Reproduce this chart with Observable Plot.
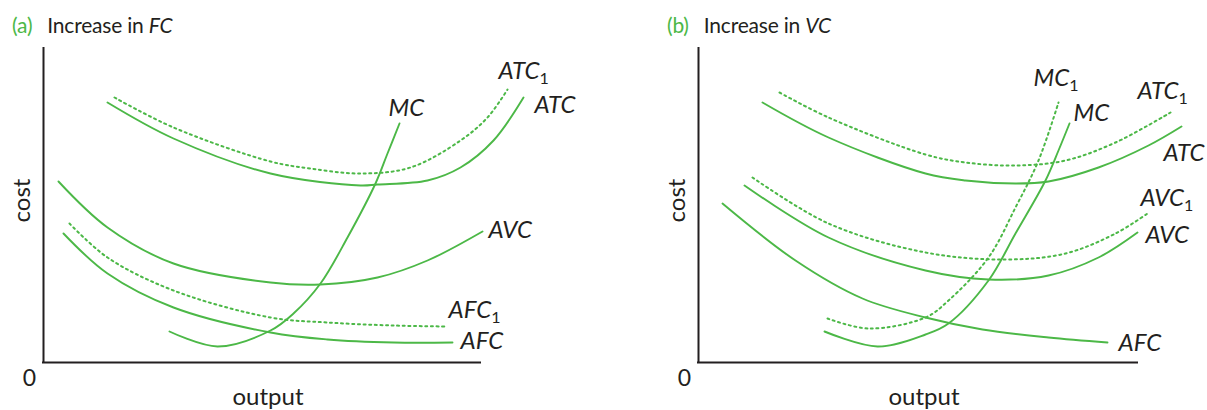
<!DOCTYPE html>
<html><head><meta charset="utf-8">
<script src="https://cdn.jsdelivr.net/npm/d3@7"></script>
<script src="https://cdn.jsdelivr.net/npm/@observablehq/plot@0.6"></script>
<style>
body{margin:0;background:#fff;}
#wrap{position:relative;width:1207px;height:410px;overflow:hidden;font-family:Lato,"Open Sans",sans-serif;color:#231f20;}
.panel{position:absolute;top:0;}
.title{position:absolute;top:14px;font-size:21px;line-height:21px;white-space:nowrap;color:#231f20;letter-spacing:-0.2px;}
.title .tag{color:#4cb847;margin-right:15px}
.title i{font-style:italic}
</style></head><body><div id="wrap"></div>
<script>
const GREEN = "#4cb847", INK = "#231f20";

// ---------- Panel (a): increase in fixed cost (output, cost) ----------
const aATC  = [[64,260],[130,224],[227,189],[317,177],[334,178],[384,182],[417,195],[450,222],[480,265]];
const aATC1 = [[71,265],[130,235],[227,201],[267,194],[317,189],[367,195],[417,222],[444,245],[464,273]];
const aMC   = [[126,31],[174,16],[227,32],[250,49],[277,79],[304,125],[332,179],[344,209],[356,239]];
const aAVC  = [[15,181],[64,135],[130,99],[227,80],[277,78],[334,85],[384,102],[439,131]];
const aAFC1 = [[26,139],[64,105],[130,72],[227,45],[284,40],[350,37],[404,36]];
const aAFC  = [[20,129],[64,89],[130,55],[227,30],[284,23],[350,20],[409,20]];
const aLabels = [
  {text:"ATC_1", x:455, y:291}, {text:"ATC", x:491, y:257}, {text:"MC", x:345, y:254},
  {text:"AVC", x:445, y:132}, {text:"AFC_1", x:405, y:52}, {text:"AFC", x:417, y:21}
];

// ---------- Panel (b): increase in variable cost ----------
const bATC  = [[64,260],[130,225],[227,189],[267,182],[317,179],[350,181],[400,195],[450,217],[483,236]];
const bATC1 = [[81,270],[130,245],[227,208],[267,200],[317,197],[367,202],[417,220],[472,250]];
const bMC   = [[126,31],[179,16],[227,28],[250,39],[290,82],[317,129],[347,182],[360,212],[371,239]];
const bMC1  = [[129,44],[170,34],[227,45],[250,62],[290,105],[317,155],[340,202],[360,260]];
const bAVC  = [[46,177],[130,125],[227,92],[290,83],[350,87],[400,105],[439,130]];
const bAVC1 = [[54,185],[130,139],[227,110],[307,103],[367,109],[417,129],[449,149]];
const bAFC  = [[24,159],[97,102],[164,64],[227,45],[284,33],[350,25],[409,20]];
const bLabels = [
  {text:"MC_1", x:335, y:284}, {text:"MC", x:375, y:249}, {text:"ATC_1", x:439, y:271},
  {text:"ATC", x:465, y:209}, {text:"AVC_1", x:442, y:164}, {text:"AVC", x:447, y:127},
  {text:"AFC", x:420, y:19}
];

const X_LABEL = "output", Y_LABEL = "cost", ORIGIN = "0";

function subscripts(svg) {
  d3.select(svg).selectAll("text").each(function() {
    const s = this.textContent;
    const i = s.indexOf("_");
    if (i < 0) return;
    this.textContent = "";
    d3.select(this).append("tspan").text(s.slice(0, i));
    d3.select(this).append("tspan").attr("dy", 5).attr("font-size", 16)
      .attr("font-style", "normal").text(s.slice(i + 1));
  });
}

function panel({left, width, x0, x1, solid, dotted, labels}) {
  const span = x1 - x0;
  const lineOpts = {curve: "catmull-rom", stroke: GREEN, strokeWidth: 1.9};
  const marks = [
    Plot.ruleX([0], {stroke: INK, strokeWidth: 2, strokeLinecap: "square"}),
    Plot.ruleY([0], {stroke: INK, strokeWidth: 2, strokeLinecap: "square"}),
    ...solid.map(d => Plot.line(d, lineOpts)),
    ...dotted.map(d => Plot.line(d, {...lineOpts, strokeWidth: 2, strokeDasharray: "2,3.6"})),
    Plot.text(labels, {x: "x", y: "y", text: "text", textAnchor: "start", lineAnchor: "middle",
      fontSize: 24, fontStyle: "italic", fill: INK}),
    Plot.text([ORIGIN], {frameAnchor: "bottom-left", textAnchor: "middle", lineAnchor: "middle",
      dx: -14, dy: 16, fontSize: 23, fill: INK}),
    Plot.text([X_LABEL], {frameAnchor: "bottom", textAnchor: "middle", lineAnchor: "middle",
      dx: 6, dy: 35, fontSize: 24, fill: INK}),
    Plot.text([Y_LABEL], {frameAnchor: "left", textAnchor: "middle", lineAnchor: "middle",
      dx: -21, dy: -5, rotate: -90, fontSize: 24, fill: INK})
  ];
  const svg = Plot.plot({
    width, height: 410,
    marginLeft: x0, marginRight: width - x1, marginTop: 48, marginBottom: 48,
    x: {domain: [0, span], axis: null},
    y: {domain: [0, 314], axis: null},
    style: {fontFamily: "Lato, 'Open Sans', sans-serif", background: "transparent", overflow: "visible"},
    marks
  });
  subscripts(svg);
  const div = document.createElement("div");
  div.className = "panel";
  div.style.left = left + "px";
  div.appendChild(svg);
  return div;
}

const wrap = document.getElementById("wrap");
wrap.appendChild(panel({left: 0, width: 603, x0: 43, x1: 480,
  solid: [aATC, aMC, aAVC, aAFC], dotted: [aATC1, aAFC1], labels: aLabels}));
wrap.appendChild(panel({left: 603, width: 604, x0: 95, x1: 534,
  solid: [bATC, bMC, bAVC, bAFC], dotted: [bATC1, bMC1, bAVC1], labels: bLabels}));

function title(left, tag, word) {
  const t = document.createElement("div");
  t.className = "title";
  t.style.left = left + "px";
  t.innerHTML = `<span class="tag">${tag}</span>Increase in <i>${word}</i>`;
  wrap.appendChild(t);
}
title(12, "(a)", "FC");
title(667, "(b)", "VC");
</script>
</body></html>
